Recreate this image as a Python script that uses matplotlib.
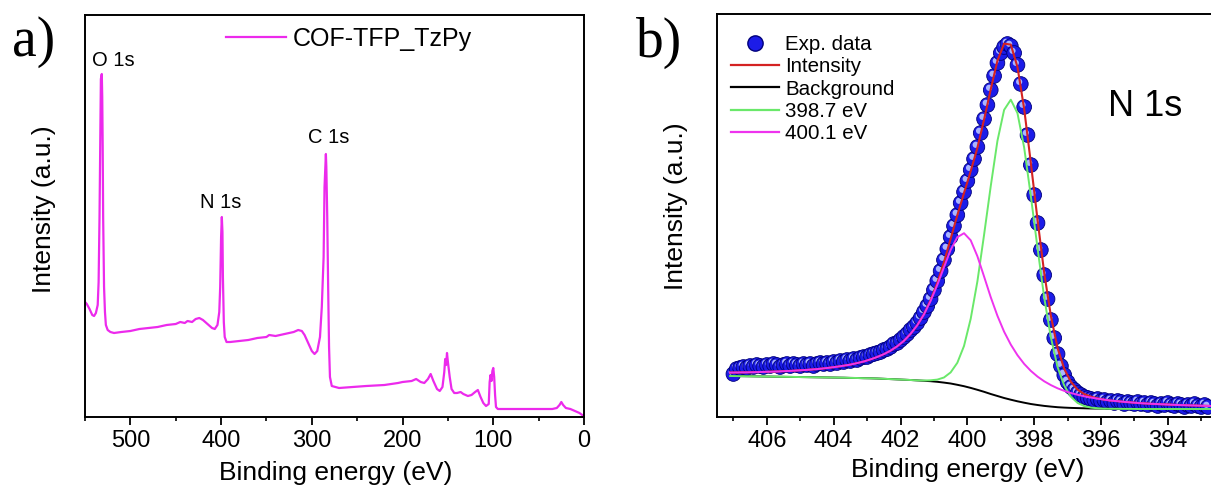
import numpy as np
import matplotlib
matplotlib.use("Agg")
import matplotlib.pyplot as plt
from matplotlib.lines import Line2D
from matplotlib.ticker import MultipleLocator

plt.rcParams["font.family"] = ["Liberation Sans", "DejaVu Sans"]

# ---- survey spectrum: binding energy (eV) / intensity (a.u.)
survey_energy = [
    550, 548, 545, 542, 540, 538, 536, 535, 534, 533, 532.5, 531.5, 531, 530.5,
    530, 529, 528, 527, 525, 522, 518, 510, 500, 490, 480, 470, 460, 450, 445,
    440, 437, 432, 428, 424, 420, 415, 410, 407, 404, 402, 401, 400, 399.2,
    398.5, 398, 397, 396, 394, 390, 380, 370, 360, 350, 347, 340, 330, 320, 315,
    311, 308, 304, 300, 297, 294, 291, 289, 287, 286, 284.5, 284, 283, 282, 281,
    280, 278, 270, 255, 240, 220, 205, 200, 190, 185, 180, 176, 172, 169, 166,
    162, 159, 156, 154, 153, 152, 151, 150, 148, 146, 143, 140, 136, 133, 128,
    124, 120, 117, 114, 111, 108, 105, 104, 103, 102, 101, 100, 99, 98, 97, 95,
    90, 70, 50, 35, 30, 27, 25, 23, 20, 15, 10, 5, 2, 0,
]
survey_counts = [
    115, 113, 108, 102, 101, 104, 112, 135, 200, 300, 338, 343, 320, 270,
    200, 130, 105, 92, 87, 85, 84, 85, 86, 88, 89, 90, 92, 93, 95,
    94, 96, 95, 98, 99, 97, 93, 89, 88, 92, 105, 130, 180, 200,
    185, 140, 95, 80, 75, 75, 76, 77, 79, 80, 82, 81, 83, 85, 87,
    86, 82, 74, 66, 63, 66, 80, 110, 160, 230, 263, 250, 200, 130, 70,
    40, 31, 29, 30, 31, 32, 34, 35, 36, 38, 35, 34, 38, 43, 36,
    28, 26, 30, 45, 58, 52, 64, 55, 40, 28, 24, 24, 25, 23, 21,
    22, 25, 27, 20, 14, 11, 13, 35, 42, 36, 46, 49, 40, 22, 10, 8,
    8, 8, 8, 8, 9, 12, 15, 12, 9, 8, 6, 4, 2, 0.5,
]
survey_name = "COF-TFP_TzPy"
survey_peaks = ["O 1s", "N 1s", "C 1s"]
survey_peak_energy = [519, 400.6, 281]
survey_peak_height = [357, 214, 280]

# ---- N 1s high resolution: measured points every 0.1 eV from 407.0 eV
n1s_start, n1s_step = 407.0, 0.1
n1s_counts = [
    43, 48, 49, 50, 49, 51, 50, 52, 51, 50,
    52, 51, 53, 52, 50, 52, 53, 51, 53, 52,
    51, 53, 52, 53, 51, 53, 54, 53, 54, 53,
    55, 54, 56, 55, 57, 56, 58, 57, 59, 60,
    60, 62, 63, 64, 65, 67, 68, 70, 73, 74,
    77, 80, 83, 87, 90, 94, 99, 105, 111, 118,
    127, 136, 146, 157, 168, 180, 191, 202, 214, 225,
    236, 247, 258, 270, 284, 298, 312, 327, 341, 354,
    364, 370, 373, 371, 364, 352, 333, 310, 282, 252,
    222, 194, 167, 142, 118, 97, 79, 63, 51, 42,
    35, 30, 27, 24, 22, 20, 19, 18, 17, 18,
    16, 17, 15, 16, 14, 16, 15, 13, 15, 14,
    13, 15, 13, 14, 12, 14, 13, 11, 13, 12,
    14, 12, 11, 13, 12, 10, 12, 11, 13, 11,
    10, 12, 10,
]

# fitted curves every 0.2 eV from 407.1 eV
fit_start, fit_step = 407.1, 0.2
fit_background = [
    41.0, 40.9, 40.8, 40.7, 40.6, 40.5, 40.4, 40.3, 40.2, 40.1,
    40.0, 39.9, 39.8, 39.7, 39.6, 39.5, 39.4, 39.3, 39.1, 39.0,
    38.8, 38.7, 38.5, 38.2, 37.9, 37.6, 37.3, 37.0, 36.6, 36.2,
    35.8, 35.2, 34.4, 33.5, 32.2, 30.8, 29.1, 27.2, 25.2, 23.0,
    21.0, 19.0, 17.3, 15.7, 14.3, 13.0, 12.0, 11.1, 10.4, 9.8,
    9.4, 9.1, 8.9, 8.7, 8.5, 8.4, 8.3, 8.2, 8.2, 8.1,
    8.1, 8.0, 8.0, 8.0, 8.0, 8.0, 8.0, 8.0, 8.0, 8.0,
    8.0, 8.0, 8.0,
]
# component heights above the background
fit_peak_398 = [
    0, 0, 0, 0, 0, 0, 0, 0, 0, 0,
    0, 0, 0, 0, 0, 0, 0, 0, 0, 0,
    0, 0, 0, 0, 0, 0, 0, 0, 0, 0.3,
    0.9, 2.2, 5.1, 11.1, 22.0, 40.2, 69.1, 108.3, 156.9, 207.9,
    255.1, 288.1, 300.0, 288.1, 255.1, 207.9, 156.9, 108.3, 69.1, 40.2,
    22.0, 11.1, 5.1, 2.2, 0.9, 0.3, 0, 0, 0, 0,
    0, 0, 0, 0, 0, 0, 0, 0, 0, 0,
    0, 0, 0,
]
fit_peak_400 = [
    3.4, 3.6, 3.8, 4.0, 4.3, 4.6, 4.9, 5.2, 5.6, 6.0,
    6.5, 7.0, 7.6, 8.2, 9.0, 9.9, 10.9, 12.0, 13.3, 14.9,
    16.7, 18.9, 21.5, 24.6, 28.4, 33.1, 38.8, 46.1, 55.1, 66.3,
    80.2, 96.8, 115.3, 133.6, 147.6, 153.0, 147.6, 133.6, 115.3, 96.8,
    80.2, 66.3, 55.1, 46.1, 38.8, 33.1, 28.4, 24.6, 21.5, 18.9,
    16.7, 14.9, 13.3, 12.0, 10.9, 9.9, 9.0, 8.2, 7.6, 7.0,
    6.5, 6.0, 5.6, 5.2, 4.9, 4.6, 4.3, 4.0, 3.8, 3.6,
    3.4, 3.2, 3.0,
]
fit_labels = ["Exp. data", "Intensity", "Background", "398.7 eV", "400.1 eV"]

W, H = 1211, 488
fig = plt.figure(figsize=(W / 100, H / 100), dpi=100)

MAGENTA = "#ec2aec"
LABEL_FS = 19
TICK_FS = 17


def style_axis(ax):
    for sp in ax.spines.values():
        sp.set_linewidth(1.4)
    ax.set_yticks([])
    ax.tick_params(axis="x", which="major", direction="out", length=5.5,
                   width=1.3, labelsize=TICK_FS, pad=4)
    ax.tick_params(axis="x", which="minor", direction="out", length=3,
                   width=1.2)


# ---- panel a: survey
ax1 = fig.add_axes([85 / W, 71 / H, 499 / W, 402 / H])
ax1.plot(survey_energy, survey_counts, color=MAGENTA, lw=1.6, label=survey_name)
ax1.set_xlim(550, 0)
ax1.set_ylim(0, 402)
ax1.xaxis.set_major_locator(MultipleLocator(100))
ax1.xaxis.set_minor_locator(MultipleLocator(50))
style_axis(ax1)
for name, e, h in zip(survey_peaks, survey_peak_energy, survey_peak_height):
    ax1.text(e, h, name, fontsize=14.5, ha="center", va="center")
ax1.set_xlabel("Binding energy (eV)", fontsize=LABEL_FS)
ax1.set_ylabel("Intensity (a.u.)", fontsize=LABEL_FS)
ax1.xaxis.label.set_va("center")
ax1.yaxis.label.set_va("center")
ax1.xaxis.set_label_coords(0.503, -0.139)
ax1.yaxis.set_label_coords(-0.082, 0.517)
ax1.legend(loc="center left", bbox_to_anchor=(226 / W, 1 - 39 / H),
           bbox_transform=fig.transFigure, frameon=False, fontsize=18,
           handlelength=2.4, handletextpad=0.25, borderpad=0, borderaxespad=0)

# ---- panel b: N 1s
ax2 = fig.add_axes([716.7 / W, 71 / H, 501.3 / W, 403 / H])
n1s_counts = np.asarray(n1s_counts, dtype=float)
n1s_energy = n1s_start - n1s_step * np.arange(len(n1s_counts))
bg = np.asarray(fit_background)
p398 = bg + np.asarray(fit_peak_398)
p400 = bg + np.asarray(fit_peak_400)
envelope = bg + np.asarray(fit_peak_398) + np.asarray(fit_peak_400)
fit_energy = fit_start - fit_step * np.arange(len(bg))

# shaded balls: body followed by its highlight, so later balls overlap earlier ones
n = len(n1s_energy)
bx = np.empty(2 * n)
by = np.empty(2 * n)
bx[0::2], bx[1::2] = n1s_energy, n1s_energy + 0.05
by[0::2], by[1::2] = n1s_counts, n1s_counts + 2.2
ax2.scatter(bx, by, s=np.tile([112, 20], n),
            c=["#1c1ce8", "#aab4ff"] * n,
            edgecolors=["#00007a", "none"] * n, linewidths=0.6, zorder=2)

RED, GREEN, PINK = "#d42222", "#6ae86a", "#ee33ee"
ax2.plot(fit_energy, bg, color="black", lw=1.4, zorder=3)
ax2.plot(fit_energy, p398, color=GREEN, lw=1.4, zorder=3)
ax2.plot(fit_energy, envelope, color=RED, lw=1.5, zorder=3)
ax2.plot(fit_energy, p400, color=PINK, lw=1.4, zorder=3)

ax2.set_xlim(407.5, 392.5)
ax2.set_ylim(0, 403)
ax2.xaxis.set_major_locator(MultipleLocator(2))
ax2.xaxis.set_minor_locator(MultipleLocator(1))
style_axis(ax2)
ax2.text(1145 / W, 1 - 107 / H, "N 1s", transform=fig.transFigure,
         fontsize=26, ha="center", va="center")
ax2.set_xlabel("Binding energy (eV)", fontsize=LABEL_FS)
ax2.set_ylabel("Intensity (a.u.)", fontsize=LABEL_FS)
ax2.xaxis.label.set_va("center")
ax2.yaxis.label.set_va("center")
ax2.xaxis.set_label_coords(0.501, -0.1315)
ax2.yaxis.set_label_coords(-0.081, 0.524)

handles = [
    Line2D([], [], ls="none", marker="o", ms=11, mfc="#1c1ce8", mec="#00007a"),
    Line2D([], [], color=RED, lw=1.6),
    Line2D([], [], color="black", lw=1.6),
    Line2D([], [], color=GREEN, lw=1.6),
    Line2D([], [], color=PINK, lw=1.6),
]
ax2.legend(handles, fit_labels, loc="upper left",
           bbox_to_anchor=(730.7 / W, 1 - 35 / H), bbox_transform=fig.transFigure,
           frameon=False, fontsize=14.8, handlelength=2.35, handletextpad=0.3,
           labelspacing=0.16, borderpad=0, borderaxespad=0)

# panel letters
fig.text(34 / W, 1 - 42 / H, "a)", fontsize=40, family="Liberation Serif",
         ha="center", va="center")
fig.text(659 / W, 1 - 43 / H, "b)", fontsize=40, family="Liberation Serif",
         ha="center", va="center")

fig.savefig("out.png", dpi=100)
